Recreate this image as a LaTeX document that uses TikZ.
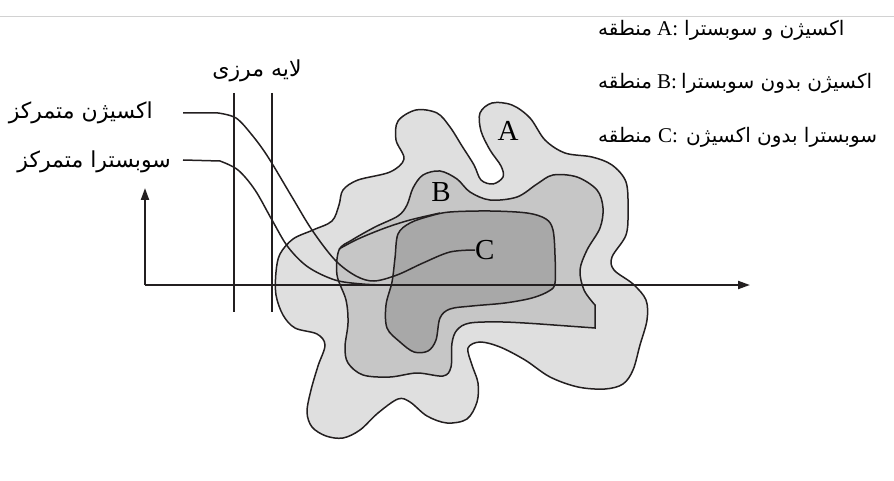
\documentclass[tikz,border=0pt]{standalone}
\usepackage{fontspec}
\setmainfont{Liberation Serif}
\newfontfamily\fa[Script=Arabic]{DejaVu Sans}
\TeXXeTstate=1
\usetikzlibrary{arrows.meta}
\definecolor{regA}{RGB}{223,223,223}
\definecolor{regB}{RGB}{198,198,198}
\definecolor{regC}{RGB}{168,168,168}
\definecolor{ink}{RGB}{35,31,32}
\begin{document}
\begin{tikzpicture}[x=1pt,y=-1pt,
  outline/.style={draw=ink,line width=1.5pt},
  profile/.style={draw=ink,line width=1.5pt},
  axis/.style={draw=ink,line width=2pt,-{Triangle[length=12pt,width=8pt]}},
  layer/.style={draw=ink,line width=1.5pt},
  fatext/.style={font=\fa\fontsize{22}{26}\selectfont,inner sep=0pt},
  legfa/.style={font=\fa\fontsize{20}{24}\selectfont,inner sep=0pt},
  lettr/.style={font=\fontsize{29}{32}\selectfont,inner sep=0pt},
  legl/.style={font=\fontsize{21}{24}\selectfont,inner sep=0pt}]
\useasboundingbox (0,0) rectangle (894,481);
% faint top rule
\coordinate (tl) at (0,16); \coordinate (tr) at (894,16);
\draw[gray!35,line width=0.8pt] (tl) -- (tr);
% region A
\path[outline,fill=regA] plot[smooth cycle,tension=0.55] coordinates {
(480,113) (492,103) (512,105) (530,118) (545,140) (565,153) (592,157) (612,165) (626,182) (628,210) (626,235) (612,257) (614,270) (633,284) (646,300) (647,320) (640,345) (633,370) (623,384) (605,389) (578,387) (550,377) (525,360) (500,347) (480,342) (468,348) (472,365) (478,383) (477,402) (467,419) (447,423) (427,416) (410,402) (398,399) (378,413) (360,430) (343,438) (326,436) (312,427) (307,412) (311,390) (318,366) (325,345) (317,334) (295,328) (283,315) (276,295) (276,272) (280,254) (293,239) (313,230) (332,221) (339,205) (343,190) (358,180) (390,172) (404,159) (396,140) (398,121) (416,110) (437,113) (450,127) (462,146) (474,165) (481,180) (493,184) (503,177) (501,166) (490,150) (481,131)};
% region B
\path[outline,fill=regB] (595,328) -- (595,305) -- plot[smooth,tension=0.55] coordinates {
(595,305) (584,290) (580,270) (587,250) (600,228) (603,208) (597,190) (577,177) (553,175) (537,184) (517,197) (490,200) (470,192) (457,179) (440,171) (423,175) (413,188) (407,205) (398,216) (375,227) (352,240) (339,250) (337,275) (346,300) (348,323) (345,347) (348,363) (363,375) (390,377) (417,373) (443,376) (451,367) (452,343) (457,330) (470,323) (503,322) (540,324)} -- cycle;
% region C
\path[outline,fill=regC] plot[smooth cycle,tension=0.55] coordinates {
(398,234) (410,223) (430,216) (450,212) (490,211) (527,213) (546,219) (553,230) (555,255) (555,283) (549,291) (532,298) (505,303) (472,306) (450,309) (440,318) (436,340) (428,351) (414,352) (400,342) (387,328) (386,305) (392,282) (395,258)};
% extra boundary line
\draw[outline] plot[smooth,tension=0.55] coordinates {(339,249) (358,239) (385,228) (410,220) (440,213)};
% boundary layer lines
\coordinate (v1t) at (234,93); \coordinate (v1b) at (234,312);
\coordinate (v2t) at (272,93); \coordinate (v2b) at (272,312);
\draw[layer] (v1t) -- (v1b);
\draw[layer] (v2t) -- (v2b);
% axes
\coordinate (o) at (145,285);
\coordinate (ytip) at (145,188);
\coordinate (xtip) at (750,285);
\draw[axis] (o) -- (ytip);
\draw[axis] (o) -- (xtip);
% labels
\node[lettr] (la) at (508,131) {A};
\node[lettr] (lb) at (441,192) {B};
\node[lettr,anchor=west] (lc) at (475,250) {C};
% oxygen profile
\coordinate (ox0) at (183,113);
\draw[profile] (ox0) -- (218,113) -- plot[smooth,tension=0.55] coordinates {(218,113) (236,118) (252,135) (268,157) (292,197) (312,230) (335,260) (356,276) (374,281) (397,275) (423,263) (450,252) (lc.west)};
% substrate profile
\coordinate (su0) at (183,160);
\draw[profile] (su0) -- (220,161) -- plot[smooth,tension=0.55] coordinates {(220,161) (238,170) (255,190) (272,220) (288,247) (308,267) (335,280) (362,284) (385,285)};
% left labels
\node[fatext,anchor=base east] (tox) at (153,119) {\beginR اکسیژن متمرکز\endR};
\node[fatext,anchor=base east] (tsu) at (171,168) {\beginR سوبسترا متمرکز\endR};
\node[fatext,anchor=base] (tbl) at (257,77) {\beginR لایه مرزی\endR};
% legend
\node[legfa,anchor=base west] (m1) at (598,36) {\beginR منطقه\endR};
\node[legl,anchor=base west] (k1) at (657,36) {A:};
\node[legfa,anchor=base west] (p1) at (684,36) {\beginR اکسیژن و سوبسترا\endR};
\node[legfa,anchor=base west] (m2) at (598,89) {\beginR منطقه\endR};
\node[legl,anchor=base west] (k2) at (657,89) {B:};
\node[legfa,anchor=base west] (p2) at (681,89) {\beginR اکسیژن بدون سوبسترا\endR};
\node[legfa,anchor=base west] (m3) at (598,143) {\beginR منطقه\endR};
\node[legl,anchor=base west] (k3) at (658,143) {C:};
\node[legfa,anchor=base west] (p3) at (686,143) {\beginR سوبسترا بدون اکسیژن\endR};
\end{tikzpicture}
\end{document}
